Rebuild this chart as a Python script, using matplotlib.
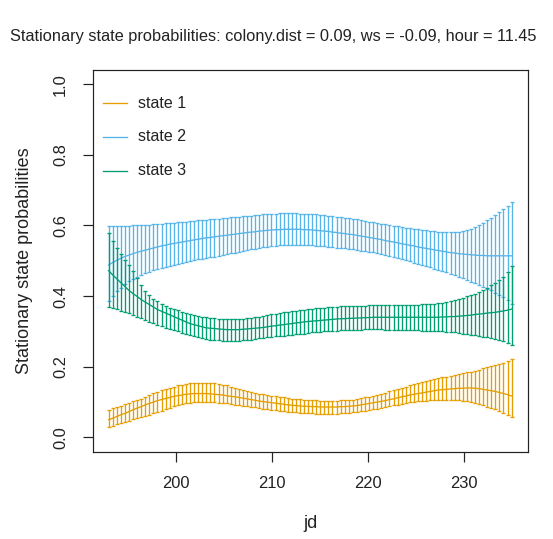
import numpy as np
import matplotlib
matplotlib.use("Agg")
import matplotlib.pyplot as plt
from matplotlib.lines import Line2D

plt.rcParams['font.family'] = ['Liberation Sans', 'DejaVu Sans']

# ---- data ----
jd_start, jd_end, n_pts = 193, 235, 100
jd = np.linspace(jd_start, jd_end, n_pts)

state1_mean = [
    0.050, 0.054, 0.059, 0.064, 0.068, 0.073, 0.078, 0.083, 0.087, 0.092,
    0.096, 0.100, 0.104, 0.107, 0.110, 0.113, 0.116, 0.118, 0.120, 0.122,
    0.123, 0.124, 0.124, 0.124, 0.124, 0.123, 0.122, 0.121, 0.120, 0.118,
    0.116, 0.115, 0.113, 0.111, 0.109, 0.107, 0.105, 0.103, 0.101, 0.100,
    0.098, 0.097, 0.095, 0.094, 0.092, 0.091, 0.090, 0.089, 0.088, 0.088,
    0.087, 0.087, 0.086, 0.086, 0.086, 0.086, 0.086, 0.087, 0.087, 0.088,
    0.089, 0.090, 0.092, 0.094, 0.096, 0.098, 0.100, 0.102, 0.104, 0.107,
    0.109, 0.112, 0.115, 0.117, 0.120, 0.122, 0.124, 0.126, 0.128, 0.130,
    0.132, 0.134, 0.135, 0.136, 0.137, 0.138, 0.139, 0.139, 0.140, 0.140,
    0.139, 0.138, 0.136, 0.134, 0.132, 0.130, 0.127, 0.124, 0.121, 0.117]
state1_upper = [
    0.078, 0.082, 0.086, 0.090, 0.094, 0.098, 0.102, 0.106, 0.110, 0.115,
    0.120, 0.125, 0.129, 0.133, 0.137, 0.141, 0.144, 0.147, 0.149, 0.151,
    0.153, 0.154, 0.155, 0.155, 0.155, 0.154, 0.153, 0.151, 0.149, 0.147,
    0.144, 0.141, 0.138, 0.135, 0.132, 0.129, 0.126, 0.124, 0.122, 0.120,
    0.118, 0.116, 0.114, 0.113, 0.111, 0.110, 0.109, 0.108, 0.107, 0.106,
    0.105, 0.105, 0.104, 0.104, 0.104, 0.104, 0.104, 0.105, 0.105, 0.106,
    0.107, 0.109, 0.111, 0.113, 0.115, 0.118, 0.121, 0.124, 0.127, 0.131,
    0.134, 0.137, 0.141, 0.144, 0.147, 0.150, 0.153, 0.156, 0.159, 0.162,
    0.165, 0.167, 0.170, 0.172, 0.175, 0.177, 0.179, 0.181, 0.184, 0.186,
    0.189, 0.192, 0.195, 0.198, 0.201, 0.204, 0.207, 0.211, 0.216, 0.221]
state1_lower = [
    0.030, 0.033, 0.037, 0.040, 0.044, 0.047, 0.051, 0.054, 0.057, 0.061,
    0.064, 0.068, 0.072, 0.076, 0.080, 0.084, 0.088, 0.091, 0.094, 0.096,
    0.098, 0.099, 0.100, 0.100, 0.100, 0.099, 0.099, 0.098, 0.097, 0.096,
    0.094, 0.093, 0.091, 0.090, 0.088, 0.087, 0.085, 0.083, 0.081, 0.080,
    0.078, 0.077, 0.075, 0.074, 0.073, 0.072, 0.071, 0.070, 0.069, 0.068,
    0.068, 0.067, 0.067, 0.067, 0.067, 0.067, 0.067, 0.068, 0.069, 0.070,
    0.071, 0.072, 0.074, 0.075, 0.077, 0.079, 0.081, 0.084, 0.086, 0.088,
    0.091, 0.093, 0.095, 0.098, 0.099, 0.101, 0.102, 0.103, 0.104, 0.105,
    0.106, 0.106, 0.107, 0.107, 0.106, 0.106, 0.105, 0.104, 0.103, 0.101,
    0.098, 0.095, 0.091, 0.087, 0.083, 0.079, 0.074, 0.069, 0.063, 0.057]

state2_mean = [
    0.488, 0.495, 0.501, 0.507, 0.512, 0.516, 0.520, 0.524, 0.527, 0.530,
    0.533, 0.536, 0.539, 0.542, 0.544, 0.547, 0.549, 0.551, 0.553, 0.555,
    0.557, 0.559, 0.561, 0.563, 0.565, 0.566, 0.568, 0.569, 0.571, 0.572,
    0.574, 0.575, 0.577, 0.578, 0.580, 0.581, 0.582, 0.584, 0.585, 0.586,
    0.587, 0.588, 0.588, 0.589, 0.589, 0.589, 0.589, 0.589, 0.588, 0.588,
    0.587, 0.586, 0.585, 0.584, 0.583, 0.581, 0.580, 0.578, 0.577, 0.575,
    0.574, 0.572, 0.570, 0.568, 0.566, 0.564, 0.562, 0.560, 0.557, 0.555,
    0.553, 0.551, 0.548, 0.546, 0.544, 0.542, 0.539, 0.537, 0.535, 0.533,
    0.531, 0.529, 0.527, 0.525, 0.523, 0.522, 0.520, 0.519, 0.518, 0.517,
    0.516, 0.515, 0.515, 0.514, 0.514, 0.514, 0.514, 0.514, 0.514, 0.514]
state2_upper = [
    0.597, 0.597, 0.598, 0.598, 0.599, 0.599, 0.600, 0.600, 0.601, 0.601,
    0.602, 0.603, 0.604, 0.605, 0.606, 0.607, 0.608, 0.609, 0.610, 0.611,
    0.612, 0.613, 0.614, 0.615, 0.616, 0.617, 0.618, 0.619, 0.620, 0.621,
    0.623, 0.624, 0.625, 0.626, 0.627, 0.628, 0.629, 0.630, 0.631, 0.632,
    0.633, 0.633, 0.634, 0.634, 0.634, 0.634, 0.634, 0.633, 0.633, 0.632,
    0.632, 0.631, 0.630, 0.629, 0.628, 0.627, 0.625, 0.624, 0.622, 0.621,
    0.619, 0.617, 0.615, 0.613, 0.611, 0.609, 0.607, 0.605, 0.603, 0.601,
    0.599, 0.598, 0.596, 0.594, 0.592, 0.591, 0.589, 0.587, 0.586, 0.585,
    0.583, 0.582, 0.581, 0.581, 0.581, 0.581, 0.582, 0.584, 0.587, 0.591,
    0.596, 0.602, 0.608, 0.615, 0.622, 0.630, 0.638, 0.647, 0.656, 0.666]
state2_lower = [
    0.385, 0.400, 0.413, 0.424, 0.434, 0.442, 0.449, 0.455, 0.460, 0.465,
    0.469, 0.473, 0.477, 0.480, 0.483, 0.486, 0.489, 0.492, 0.494, 0.497,
    0.499, 0.501, 0.504, 0.506, 0.508, 0.510, 0.512, 0.514, 0.517, 0.519,
    0.521, 0.523, 0.526, 0.528, 0.530, 0.532, 0.534, 0.536, 0.538, 0.540,
    0.541, 0.543, 0.544, 0.545, 0.545, 0.546, 0.546, 0.546, 0.545, 0.545,
    0.544, 0.543, 0.542, 0.541, 0.540, 0.538, 0.537, 0.536, 0.535, 0.534,
    0.532, 0.531, 0.529, 0.528, 0.526, 0.524, 0.522, 0.519, 0.517, 0.514,
    0.511, 0.508, 0.505, 0.502, 0.499, 0.495, 0.492, 0.488, 0.485, 0.481,
    0.477, 0.474, 0.470, 0.467, 0.463, 0.459, 0.455, 0.450, 0.446, 0.441,
    0.437, 0.432, 0.427, 0.421, 0.416, 0.410, 0.404, 0.397, 0.388, 0.378]

state3_mean = [
    0.472, 0.460, 0.449, 0.438, 0.427, 0.416, 0.407, 0.399, 0.390, 0.383,
    0.376, 0.369, 0.362, 0.357, 0.352, 0.347, 0.342, 0.337, 0.332, 0.327,
    0.322, 0.319, 0.316, 0.313, 0.310, 0.309, 0.308, 0.307, 0.306, 0.305,
    0.305, 0.305, 0.305, 0.306, 0.307, 0.308, 0.309, 0.310, 0.311, 0.313,
    0.315, 0.316, 0.318, 0.319, 0.321, 0.322, 0.324, 0.325, 0.327, 0.328,
    0.329, 0.330, 0.331, 0.332, 0.333, 0.334, 0.335, 0.336, 0.336, 0.337,
    0.337, 0.338, 0.338, 0.339, 0.339, 0.340, 0.340, 0.340, 0.340, 0.340,
    0.340, 0.340, 0.340, 0.340, 0.340, 0.340, 0.340, 0.340, 0.340, 0.340,
    0.340, 0.340, 0.341, 0.341, 0.342, 0.342, 0.343, 0.344, 0.345, 0.346,
    0.348, 0.349, 0.350, 0.352, 0.353, 0.354, 0.356, 0.358, 0.360, 0.363]
state3_upper = [
    0.578, 0.556, 0.536, 0.518, 0.503, 0.489, 0.470, 0.450, 0.430, 0.415,
    0.402, 0.393, 0.385, 0.378, 0.372, 0.367, 0.363, 0.360, 0.356, 0.352,
    0.349, 0.346, 0.344, 0.342, 0.340, 0.338, 0.337, 0.336, 0.335, 0.335,
    0.335, 0.335, 0.335, 0.336, 0.337, 0.339, 0.340, 0.342, 0.344, 0.346,
    0.348, 0.350, 0.352, 0.354, 0.355, 0.357, 0.358, 0.360, 0.361, 0.363,
    0.364, 0.365, 0.366, 0.367, 0.368, 0.369, 0.370, 0.371, 0.371, 0.372,
    0.372, 0.373, 0.373, 0.373, 0.374, 0.374, 0.374, 0.374, 0.375, 0.375,
    0.375, 0.375, 0.375, 0.376, 0.376, 0.376, 0.376, 0.377, 0.377, 0.378,
    0.378, 0.379, 0.381, 0.383, 0.385, 0.388, 0.391, 0.395, 0.399, 0.403,
    0.407, 0.412, 0.418, 0.424, 0.431, 0.438, 0.446, 0.455, 0.467, 0.484]
state3_lower = [
    0.370, 0.366, 0.362, 0.358, 0.355, 0.351, 0.347, 0.342, 0.338, 0.333,
    0.328, 0.324, 0.319, 0.315, 0.311, 0.307, 0.303, 0.300, 0.296, 0.292,
    0.289, 0.286, 0.283, 0.281, 0.279, 0.277, 0.276, 0.275, 0.274, 0.274,
    0.274, 0.274, 0.274, 0.275, 0.276, 0.277, 0.278, 0.280, 0.281, 0.283,
    0.285, 0.286, 0.287, 0.288, 0.290, 0.291, 0.292, 0.293, 0.294, 0.295,
    0.297, 0.298, 0.299, 0.300, 0.301, 0.302, 0.302, 0.303, 0.304, 0.304,
    0.305, 0.305, 0.305, 0.306, 0.306, 0.306, 0.306, 0.306, 0.305, 0.305,
    0.305, 0.305, 0.304, 0.304, 0.304, 0.303, 0.303, 0.302, 0.302, 0.301,
    0.301, 0.300, 0.300, 0.299, 0.298, 0.297, 0.296, 0.294, 0.293, 0.291,
    0.289, 0.287, 0.285, 0.283, 0.281, 0.278, 0.276, 0.272, 0.267, 0.262]

state_labels = ["state 1", "state 2", "state 3"]
state_colors = ["#E69F00", "#56B4E9", "#009E73"]
x_ticks = [200, 210, 220, 230]
y_ticks = [0.0, 0.2, 0.4, 0.6, 0.8, 1.0]
title = "Stationary state probabilities: colony.dist = 0.09, ws = -0.09, hour = 11.45"

means = [state1_mean, state2_mean, state3_mean]
uppers = [state1_upper, state2_upper, state3_upper]
lowers = [state1_lower, state2_lower, state3_lower]

# ---- figure ----
DPI = 96
fig = plt.figure(figsize=(553 / DPI, 539 / DPI), dpi=DPI)
ax = fig.add_axes([92.5 / 553, 1 - 451.5 / 539, 435.2 / 553, 381.5 / 539])

lw = 1.0
for m, u, l, c in zip(means, uppers, lowers, state_colors):
    m = np.asarray(m); u = np.asarray(u); l = np.asarray(l)
    ax.plot(jd, m, color=c, lw=lw)
    ax.errorbar(jd, m, yerr=[m - l, u - m], fmt='none', ecolor=c,
                elinewidth=lw, capsize=1.7, capthick=lw)

rng = jd_end - jd_start
ax.set_xlim(jd_start - 0.04 * rng, jd_end + 0.04 * rng)
ax.set_ylim(-0.04, 1.04)
ax.set_xticks(x_ticks)
ax.set_xticklabels([str(t) for t in x_ticks])
ax.set_yticks(y_ticks)
ax.set_yticklabels([f"{t:.1f}" for t in y_ticks], rotation=90, va='center')

for sp in ax.spines.values():
    sp.set_linewidth(0.9)
    sp.set_color('#222222')
ax.tick_params(axis='both', direction='out', length=7.2, width=0.9,
               labelsize=12.4, color='#222222', labelcolor='#222222')
ax.tick_params(axis='x', pad=11.5)
ax.tick_params(axis='y', pad=11)

ax.set_xlabel("jd", fontsize=13.5, color='#222222', labelpad=17.5)
ax.set_ylabel("Stationary state probabilities", fontsize=13.5, color='#222222',
              labelpad=15.5)
fig.text(273 / 553, 1 - 37 / 539, title, fontsize=12.3, color='#222222',
         ha='center', va='center')

# legend (bty = "n")
row_y = [0.913, 0.825, 0.736]
for yy, lab, c in zip(row_y, state_labels, state_colors):
    ax.add_line(Line2D([0.0237, 0.079], [yy, yy], transform=ax.transAxes,
                       color=c, lw=1.0))
    ax.text(0.104, yy, lab, transform=ax.transAxes, fontsize=12,
            color='#222222', va='center', ha='left')

fig.savefig("out.png", dpi=DPI)
